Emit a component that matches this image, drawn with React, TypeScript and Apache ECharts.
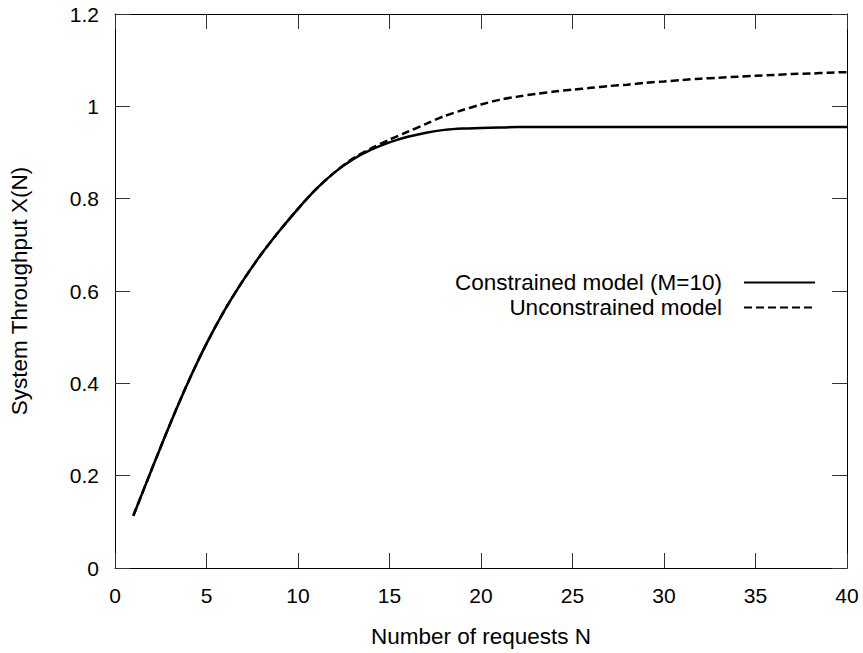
import React, { useEffect, useRef } from "react";
import * as echarts from "echarts";

const requests: number[] = Array.from({ length: 40 }, (_, i) => i + 1);

const constrained: number[] = [
  0.113, 0.213, 0.311, 0.403, 0.486, 0.559, 0.623, 0.68, 0.731, 0.778,
  0.821, 0.857, 0.885, 0.906, 0.922, 0.934, 0.943, 0.949, 0.952, 0.953,
  0.954, 0.955, 0.955, 0.955, 0.955, 0.955, 0.955, 0.955, 0.955, 0.955,
  0.955, 0.955, 0.955, 0.955, 0.955, 0.955, 0.955, 0.955, 0.955, 0.955,
];

const unconstrained: number[] = [
  0.113, 0.213, 0.311, 0.403, 0.486, 0.559, 0.623, 0.68, 0.731, 0.778,
  0.821, 0.857, 0.887, 0.909, 0.928, 0.945, 0.962, 0.979, 0.992, 1.004,
  1.014, 1.021, 1.027, 1.032, 1.036, 1.04, 1.044, 1.047, 1.051, 1.054,
  1.057, 1.06, 1.062, 1.064, 1.066, 1.068, 1.07, 1.071, 1.073, 1.074,
];

const seriesNames = ["Constrained model (M=10)", "Unconstrained model"];
const xTitle = "Number of requests N";
const yTitle = "System Throughput X(N)";

const FONT = "'Liberation Sans', Arial, sans-serif";
const FS = 22.5;
const TFS = 21;

export default function App() {
  const ref = useRef<HTMLDivElement>(null);
  useEffect(() => {
    if (!ref.current) return;
    const chart = echarts.init(ref.current, undefined, { renderer: "svg" });
    const tickStyle = { inside: true, length: 15, lineStyle: { color: "#333", width: 1 } };
    const lineAxis = { show: true, onZero: false, lineStyle: { color: "#000", width: 1 } };
    const legendCommon = {
      orient: "horizontal" as const,
      align: "right" as const,
      right: 47,
      itemWidth: 71,
      itemHeight: 14,
      padding: 0,
      selectedMode: false,
      itemStyle: { opacity: 0 },
      textStyle: { fontFamily: FONT, fontSize: FS, color: "#000", padding: [0, 17, 0, 0] },
    };
    chart.setOption({
      animation: false,
      backgroundColor: "#fff",
      grid: { left: 115, right: 16, top: 14, bottom: 80, containLabel: false },
      legend: [
        { ...legendCommon, data: [seriesNames[0]], top: 271 },
        { ...legendCommon, data: [seriesNames[1]], top: 296 },
      ],
      xAxis: [
        {
          type: "value",
          position: "bottom",
          min: 0,
          max: 40,
          interval: 5,
          name: xTitle,
          nameLocation: "middle",
          nameGap: 57,
          nameTextStyle: { fontFamily: FONT, fontSize: FS, color: "#000" },
          axisLine: lineAxis,
          axisTick: tickStyle,
          axisLabel: { fontFamily: FONT, fontSize: TFS, color: "#000", margin: 17 },
          splitLine: { show: false },
        },
        {
          type: "value",
          position: "top",
          min: 0,
          max: 40,
          interval: 5,
          axisLine: lineAxis,
          axisTick: tickStyle,
          axisLabel: { show: false },
          splitLine: { show: false },
        },
      ],
      yAxis: [
        {
          type: "value",
          position: "left",
          min: 0,
          max: 1.2,
          interval: 0.2,
          name: yTitle,
          nameLocation: "middle",
          nameRotate: 90,
          nameGap: 84,
          nameTextStyle: { fontFamily: FONT, fontSize: FS, color: "#000" },
          axisLine: lineAxis,
          axisTick: tickStyle,
          axisLabel: { fontFamily: FONT, fontSize: TFS, color: "#000", margin: 16 },
          splitLine: { show: false },
        },
        {
          type: "value",
          position: "right",
          min: 0,
          max: 1.2,
          interval: 0.2,
          axisLine: lineAxis,
          axisTick: tickStyle,
          axisLabel: { show: false },
          splitLine: { show: false },
        },
      ],
      series: [
        {
          name: seriesNames[0],
          type: "line",
          xAxisIndex: 0,
          yAxisIndex: 0,
          symbol: "none",
          smooth: 0.3,
          lineStyle: { color: "#000", width: 2.5, type: "solid" },
          itemStyle: { color: "#000" },
          data: requests.map((n, i) => [n, constrained[i]]),
          z: 3,
        },
        {
          name: seriesNames[1],
          type: "line",
          xAxisIndex: 0,
          yAxisIndex: 0,
          symbol: "none",
          smooth: 0.3,
          lineStyle: { color: "#000", width: 2.5, type: [8, 4] },
          itemStyle: { color: "#000" },
          data: requests.map((n, i) => [n, unconstrained[i]]),
          z: 2,
        },
      ],
    });
    return () => chart.dispose();
  }, []);
  return (
    <div
      ref={ref}
      style={{ position: "fixed", left: 0, top: 0, width: 863, height: 653, background: "#fff" }}
    />
  );
}
